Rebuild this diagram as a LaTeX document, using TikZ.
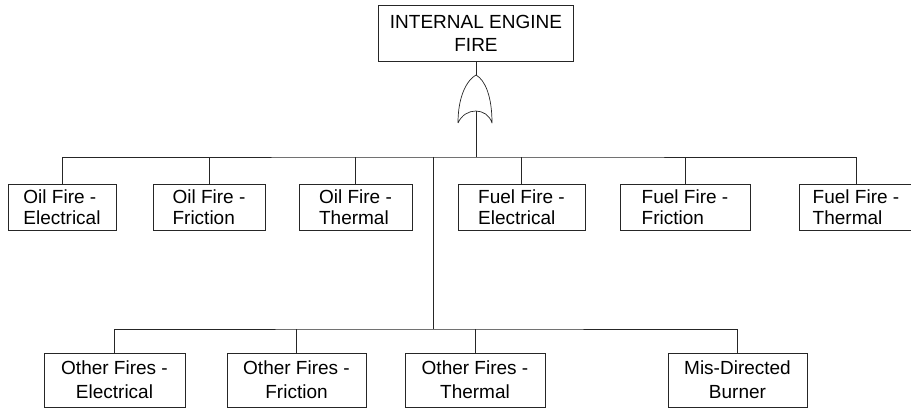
\documentclass[tikz,border=0pt]{standalone}
\usepackage{fontspec}
\setmainfont{Liberation Sans}
\begin{document}
\begin{tikzpicture}[x=1pt,y=-1pt,
  ln/.style={line width=0.7pt,draw=black!85},
  evbox/.style={ln,rectangle,inner sep=0pt,font=\fontsize{19}{21}\selectfont,text=black},
  toprow/.style={evbox,minimum height=46pt,align=left},
  botrow/.style={evbox,minimum height=54pt,align=center,font=\fontsize{19}{24}\selectfont},
  gate/.style={ln,line join=round}]
\useasboundingbox (0,0) rectangle (911,409);
% top event
\node[evbox,minimum width=195pt,minimum height=56pt,align=center,font=\fontsize{19}{23}\selectfont] (top) at (476,33) {INTERNAL ENGINE\\FIRE};
% OR gate
\coordinate (gtop) at (476,75);
\coordinate (gbot) at (476,111);
\draw[gate] (458,123) .. controls (458,96) and (467,80) .. (gtop)
  .. controls (485,80) and (492,96) .. (492,123)
  .. controls (487,107) and (465,107) .. (458,123);
\draw[ln] (top.south) -- (gtop);
% first row
\node[toprow,minimum width=108pt] (OE) at (62,207) {Oil Fire -\\Electrical};
\node[toprow,minimum width=112pt] (OFr) at (209,207) {Oil Fire -\\Friction};
\node[toprow,minimum width=113pt] (OT) at (355.5,207) {Oil Fire -\\Thermal};
\node[toprow,minimum width=127pt] (FE) at (521.5,207) {Fuel Fire -\\Electrical};
\node[toprow,minimum width=130pt] (FFr) at (685,207) {Fuel Fire -\\Friction};
\node[toprow,minimum width=114pt] (FT) at (856,207) {Fuel Fire -\\Thermal};
\coordinate (b1) at (476,157);
\draw[ln] (gbot) -- (b1);
\draw[ln] (OE.north) |- (b1) -| (FT.north);
\foreach \n in {OFr,OT,FE,FFr}{\draw[ln] (\n.north) -- (\n.north |- b1);}
% trunk to second row
\coordinate (t1) at (433,157);
\coordinate (b2) at (433,329);
\draw[ln] (t1) -- (b2);
\node[botrow,minimum width=141pt] (XE) at (114.5,380) {Other Fires -\\Electrical};
\node[botrow,minimum width=139pt] (XFr) at (296.5,380) {Other Fires -\\Friction};
\node[botrow,minimum width=140pt] (XT) at (475,380) {Other Fires -\\Thermal};
\node[botrow,minimum width=139pt] (MD) at (737.5,380) {Mis-Directed\\Burner};
\draw[ln] (XE.north) |- (b2) -| (MD.north);
\foreach \n in {XFr,XT}{\draw[ln] (\n.north) -- (\n.north |- b2);}
\end{tikzpicture}
\end{document}
